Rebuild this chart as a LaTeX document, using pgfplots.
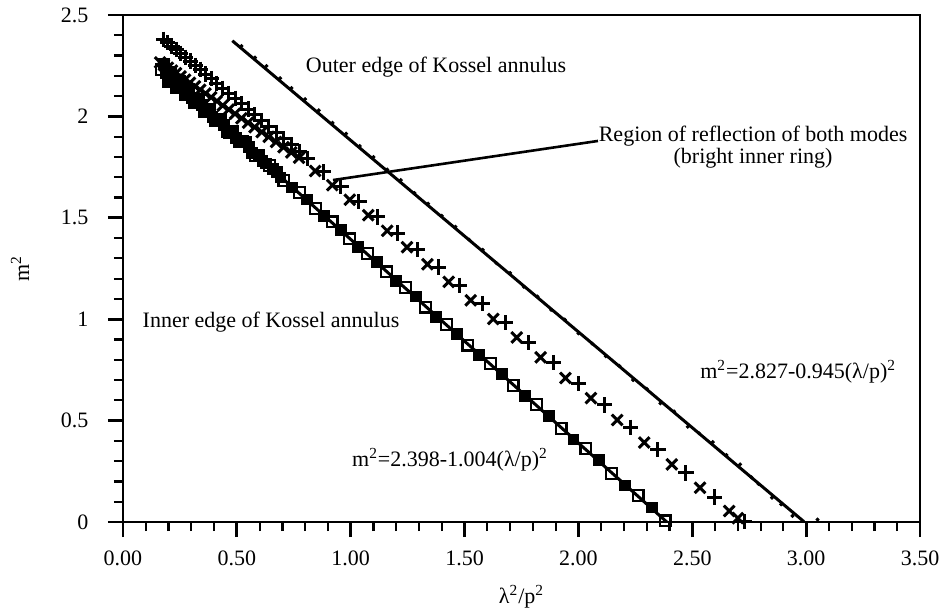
\documentclass[border=0pt]{standalone}
\usepackage{fontspec}
\setmainfont{Liberation Serif}
\usepackage{pgfplots}
\pgfplotsset{compat=1.18}
\begin{document}
\fontsize{11}{13}\selectfont
\begin{tikzpicture}
\begin{axis}[
  scale only axis, width=398.5pt, height=253.5pt,
  xmin=0, xmax=3.5, ymin=0, ymax=2.5,
  clip=false,
  axis line style={line width=1.4pt},
  tick pos=left, tick align=outside,
  xtick={0,0.5,...,3.5}, ytick={0,0.5,1,1.5,2,2.5},
  yticklabels={0,0.5,1,1.5,2,2.5},
  minor x tick num=4, minor y tick num=4,
  major tick length=7.5pt, minor tick length=4.5pt,
  every major tick/.style={line width=1.4pt,black},
  every minor tick/.style={line width=1.1pt,black},
  xticklabel style={yshift=-3pt,/pgf/number format/fixed,/pgf/number format/precision=2,/pgf/number format/fixed zerofill},
  yticklabel style={xshift=-6pt},
  /pgf/number format/assume math mode=true,
  xlabel={λ\textsuperscript{2}/p\textsuperscript{2}},
  ylabel={m\textsuperscript{2}},
  xlabel style={at={(axis description cs:0.5,0)}, anchor=center, yshift=-37.5pt},
  ylabel style={at={(axis description cs:0,0.5)}, anchor=center, yshift=51.5pt},
]
% outer edge fit line
\addplot[black, line width=1.5pt] coordinates {(0.48,2.373) (2.99,0.002)};
% inner edge fit line
\addplot[black, line width=1.5pt] coordinates {(0.17,2.227) (2.388,0.0)};
% outer edge data (small dots)
\addplot[only marks, mark=*, mark size=0.8pt, black] coordinates {
(0.52,2.347)(0.58,2.290)(0.63,2.248)(0.69,2.188)(0.74,2.140)(0.80,2.085)(0.86,2.030)
(0.92,1.968)(0.98,1.915)(1.04,1.854)(1.10,1.800)(1.16,1.738)(1.22,1.686)(1.28,1.622)
(1.34,1.570)(1.40,1.510)(1.46,1.456)(1.52,1.392)(1.58,1.342)(1.64,1.276)(1.70,1.228)
(1.76,1.160)(1.82,1.112)(1.88,1.046)(1.94,0.998)(2.00,0.930)(2.06,0.880)(2.12,0.818)
(2.18,0.770)(2.24,0.700)(2.30,0.657)(2.36,0.585)(2.42,0.545)(2.48,0.470)(2.53,0.437)
(2.59,0.394)(2.65,0.330)(2.71,0.284)(2.76,0.220)(2.79,0.188)(2.85,0.120)(2.89,0.087)
(2.94,0.030)(3.05,0.012)
};
% open squares
\addplot[only marks, mark=square, mark size=2.7pt, black, mark options={line width=1.1pt}] coordinates {
(0.170,2.232)(0.203,2.188)(0.240,2.163)(0.280,2.110)(0.323,2.080)(0.368,2.022)
(0.417,1.985)(0.469,1.921)(0.524,1.878)(0.582,1.808)(0.643,1.757)(0.707,1.683)
(0.774,1.626)(0.845,1.545)(0.918,1.480)(0.994,1.396)(1.073,1.325)(1.156,1.233)
(1.241,1.156)(1.329,1.060)(1.421,0.975)(1.515,0.872)(1.613,0.783)(1.713,0.674)
(1.817,0.578)(1.924,0.462)(2.033,0.361)(2.146,0.239)(2.262,0.131)(2.381,0.005)
};
% filled squares
\addplot[only marks, mark=square*, mark size=2.7pt, black] coordinates {
(0.186,2.216)(0.221,2.171)(0.260,2.142)(0.301,2.091)(0.345,2.057)(0.393,1.998)
(0.443,1.958)(0.496,1.895)(0.553,1.848)(0.612,1.779)(0.675,1.725)(0.740,1.650)
(0.809,1.591)(0.881,1.508)(0.956,1.442)(1.033,1.356)(1.114,1.284)(1.198,1.190)
(1.285,1.112)(1.375,1.013)(1.468,0.928)(1.564,0.823)(1.663,0.732)(1.765,0.621)
(1.870,0.525)(1.978,0.407)(2.089,0.305)(2.204,0.180)(2.321,0.072)
(0.178,2.259)(0.195,2.172)(0.212,2.220)(0.230,2.142)(0.250,2.177)(0.270,2.107)
(0.290,2.137)(0.312,2.065)(0.334,2.088)(0.356,2.021)(0.380,2.037)(0.405,1.976)
(0.430,1.986)(0.456,1.925)(0.482,1.929)(0.510,1.876)(0.538,1.873)(0.567,1.819)
(0.597,1.809)(0.627,1.768)(0.659,1.741)(0.691,1.699)
};
% x marks
\addplot[only marks, mark=x, mark size=3.8pt, black, mark options={line width=1.5pt}] coordinates {
(0.163,2.266)(0.180,2.253)(0.197,2.240)(0.215,2.226)(0.233,2.213)(0.253,2.197)
(0.273,2.181)(0.294,2.166)(0.316,2.148)(0.339,2.131)(0.362,2.113)(0.387,2.094)
(0.412,2.075)(0.438,2.054)(0.464,2.034)(0.492,2.013)(0.520,1.991)(0.549,1.969)
(0.578,1.947)(0.609,1.923)(0.640,1.899)(0.672,1.874)(0.705,1.848)(0.739,1.822)
(0.773,1.796)(0.844,1.731)(0.919,1.661)(0.996,1.589)(1.077,1.513)(1.160,1.436)
(1.247,1.355)(1.337,1.271)(1.430,1.184)(1.527,1.093)(1.626,1.001)(1.729,0.910)
(1.834,0.812)(1.943,0.710)(2.055,0.611)(2.170,0.503)(2.289,0.392)(2.410,0.284)
(2.534,0.169)(2.662,0.054)(2.700,0.019)
};
% plus marks
\addplot[only marks, mark=+, mark size=3.8pt, black, mark options={line width=1.5pt}] coordinates {
(0.180,2.380)(0.197,2.364)(0.215,2.347)(0.234,2.330)(0.253,2.312)(0.274,2.292)
(0.295,2.273)(0.317,2.252)(0.339,2.232)(0.363,2.209)(0.387,2.187)(0.412,2.164)
(0.438,2.139)(0.465,2.114)(0.492,2.089)(0.520,2.063)(0.549,2.036)(0.579,2.008)
(0.609,1.980)(0.640,1.951)(0.672,1.921)(0.705,1.890)(0.739,1.859)(0.774,1.826)
(0.809,1.793)(0.881,1.726)(0.957,1.655)(1.036,1.581)(1.119,1.504)(1.204,1.425)
(1.292,1.343)(1.384,1.257)(1.479,1.168)(1.577,1.077)(1.678,0.982)(1.782,0.885)
(1.889,0.786)(1.999,0.683)(2.113,0.577)(2.230,0.467)(2.349,0.356)(2.472,0.242)
(2.599,0.123)(2.728,0.003)
};
% annotation pointer
\draw[black, line width=1.3pt] (axis cs:0.922,1.686) -- (axis cs:2.086,1.879);
\node at (axis cs:1.375,2.243) {Outer edge of Kossel annulus};
\node[align=center, font=\fontsize{11}{10}\selectfont] at (axis cs:2.767,1.849) {Region of reflection of both modes\\(bright inner ring)};
\node at (axis cs:0.65,0.986) {Inner edge of Kossel annulus};
\node at (axis cs:2.965,0.740) {m\textsuperscript{2}=2.827-0.945(λ/p)\textsuperscript{2}};
\node at (axis cs:1.436,0.306) {m\textsuperscript{2}=2.398-1.004(λ/p)\textsuperscript{2}};
\end{axis}
\path ([xshift=-61.5pt,yshift=-46pt]current axis.south west) rectangle ([xshift=15pt,yshift=7.5pt]current axis.north east);
\end{tikzpicture}
\end{document}
